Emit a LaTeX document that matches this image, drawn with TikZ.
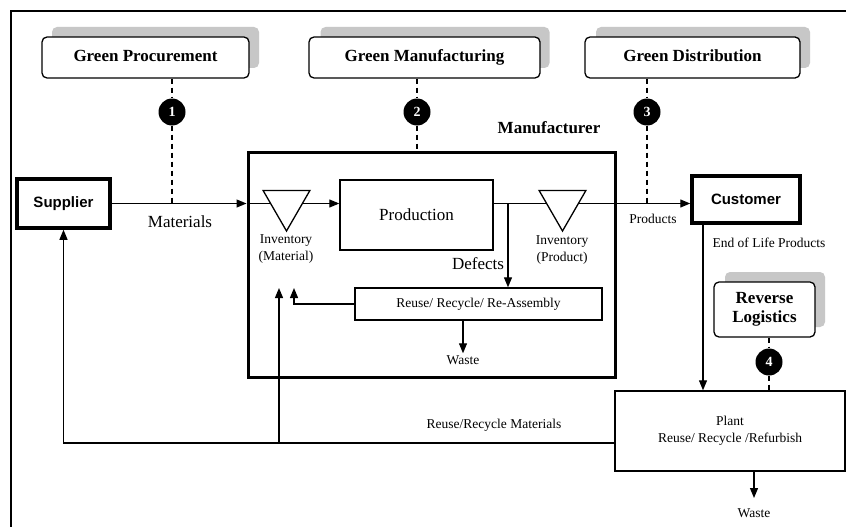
\documentclass[tikz,border=0pt]{standalone}
\usepackage{fontspec}
\setmainfont{Liberation Serif}
\newfontfamily\sansf{Liberation Sans}
\usetikzlibrary{arrows.meta,shapes.geometric}
\begin{document}
\begin{tikzpicture}[x=1pt,y=-1pt,
  gbox/.style={draw, rounded corners=5pt, fill=white, line width=1.3pt, inner sep=0pt, align=center, font=\fontsize{17}{19}\selectfont\bfseries},
  gtext/.style={text height=11.5pt, text depth=3.5pt},
  shbox/.style={fill=black!22, rounded corners=5pt, inner sep=0pt},
  num/.style={circle, fill=black, text=white, minimum size=27pt, inner sep=0pt, font=\fontsize{14}{14}\selectfont\bfseries},
  dsh/.style={dash pattern=on 5pt off 4pt, line width=1.3pt},
  thickbox/.style={draw, line width=3.5pt, inner sep=0pt, font=\sansf\fontsize{15}{17}\selectfont\bfseries},
  plainbox/.style={draw, line width=1.4pt, inner sep=0pt, align=center},
  arr/.style={-{Triangle[length=10pt,width=8pt]}, line width=1.2pt},
  tri/.style={draw, fill=white, regular polygon, regular polygon sides=3, shape border rotate=180, minimum size=54pt, inner sep=0pt, line width=1.3pt},
  lab/.style={font=\fontsize{13.5}{17}\selectfont, align=center, inner sep=0pt},
  labbig/.style={font=\fontsize{17}{20}\selectfont, align=center, inner sep=0pt},
  frame/.style={line width=2.5pt}
]
\useasboundingbox (0,0) rectangle (846,527);
\fill[white] (0,0) rectangle (846,527);
% outer frame
\coordinate (f1) at (11,527);
\coordinate (f2) at (11,11);
\coordinate (f3) at (846,11);
\draw[frame] (f1) -- (f2) -- (f3);

% green boxes with shadows
\node[shbox, minimum width=207pt, minimum height=41pt] (gps) at (155.5,47.5) {};
\node[gbox, gtext, minimum width=207pt, minimum height=41pt] (gp) at (145.5,57.5) {Green Procurement};
\node[shbox, minimum width=229pt, minimum height=41pt] (gms) at (435,47.5) {};
\node[gbox, gtext, minimum width=231pt, minimum height=41pt] (gm) at (424.5,57.5) {Green Manufacturing};
\node[shbox, minimum width=214pt, minimum height=41pt] (gds) at (703,47.5) {};
\node[gbox, gtext, minimum width=215pt, minimum height=41pt] (gd) at (692.5,57.5) {Green Distribution};

% numbers
\node[num] (c1) at (172,112) {1};
\node[num] (c2) at (417,112) {2};
\node[num] (c3) at (647,112) {3};

\node[font=\fontsize{17}{20}\selectfont\bfseries, inner sep=0pt] (mlab) at (549,128) {Manufacturer};

% main boxes
\node[draw, line width=3pt, minimum width=367pt, minimum height=225pt, inner sep=0pt] (mfg) at (431.5,264.5) {};
\node[thickbox, minimum width=93pt, minimum height=49pt] (sup) at (63.5,203.5) {Supplier};
\node[thickbox, minimum width=108pt, minimum height=47pt] (cust) at (746,199.5) {Customer};
\node[plainbox, minimum width=153pt, minimum height=70pt, font=\fontsize{17}{20}\selectfont] (prod) at (416.5,215) {Production};
\node[plainbox, minimum width=247pt, minimum height=32pt, font=\fontsize{13.5}{17}\selectfont] (reuse) at (478.5,304) {Reuse/ Recycle/ Re-Assembly};
\node[plainbox, minimum width=230pt, minimum height=80pt, font=\fontsize{13.5}{16.5}\selectfont] (plant) at (730,431) {Plant\\Reuse/ Recycle /Refurbish};

% reverse logistics
\node[shbox, minimum width=100pt, minimum height=55pt] (rls) at (775,299.5) {};
\node[gbox, minimum width=101pt, minimum height=55pt, font=\fontsize{17}{19}\selectfont\bfseries] (rl) at (764.5,309.5) {Reverse\\Logistics};
\node[num] (c4) at (769,362) {4};

% dashed links
\draw[dsh] (c1 |- gp.south) -- (c1.north);
\draw[dsh] (c1.south) -- (c1 |- sup.east);
\draw[dsh] (c2 |- gm.south) -- (c2.north);
\draw[dsh] (c2.south) -- (c2 |- mfg.north);
\draw[dsh] (c3 |- gd.south) -- (c3.north);
\draw[dsh] (c3.south) -- (c3 |- sup.east);
\draw[dsh] (c4 |- rl.south) -- (c4.north);
\draw[dsh] (c4.south) -- (c4 |- plant.north);

% main flow
\draw[arr] (sup.east) -- (mfg.west |- sup.east);
\draw[arr] (mfg.west |- sup.east) -- (prod.west |- sup.east);
\draw[arr] (prod.east |- sup.east) -- (cust.west |- sup.east);
\node[tri] (inv1) at (286.5,204) {};
\node[tri] (inv2) at (562.5,204) {};

% labels
\node[labbig] (tmat) at (180,222) {Materials};
\node[lab] (tinv1) at (286,249) {Inventory\\(Material)};
\node[lab] (tinv2) at (562,250) {Inventory\\(Product)};
\node[labbig] (tdef) at (478,264) {Defects};
\node[lab] (tprod) at (653,219) {Products};
\node[lab] (teol) at (769,243) {End of Life Products};
\node[lab] (trrm) at (494,425) {Reuse/Recycle Materials};

% defects
\coordinate (dj) at (508,203.5);
\draw[arr] (dj) -- (dj |- reuse.north);

% reuse back to inventory
\coordinate (rt) at (294,288);
\draw[arr] (reuse.west) -| (rt);

% waste from reuse
\node[lab] (w1) at (463,360) {Waste};
\coordinate (w1s) at (463,320);
\draw[arr] (w1s) -- ([yshift=2pt]w1.north);

% end of life
\coordinate (cd) at (703,223);
\draw[arr] (cd) -- (cd |- plant.north);

% reuse/recycle materials line
\coordinate (rr) at ([yshift=-12pt]plant.west);
\draw[arr] (rr) -| (sup.south);
\coordinate (br) at (279,443);
\coordinate (bt) at (279,288);
\draw[arr] (br) -- (bt);

% waste from plant
\node[lab] (w2) at (754,513) {Waste};
\coordinate (w2s) at (754,471);
\draw[arr] (w2s) -- (754,498);
\end{tikzpicture}
\end{document}
